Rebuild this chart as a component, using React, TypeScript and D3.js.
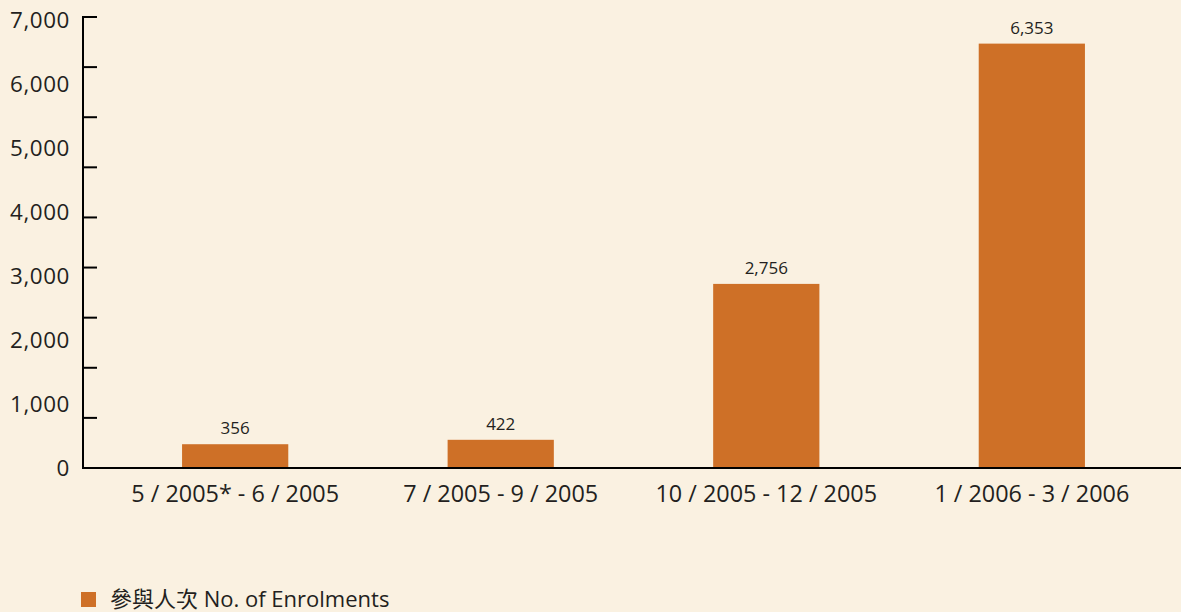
import React, { useEffect, useRef } from 'react';
import * as d3 from 'd3';

const categories = ['5 / 2005* - 6 / 2005', '7 / 2005 - 9 / 2005', '10 / 2005 - 12 / 2005', '1 / 2006 - 3 / 2006'];
const enrolments = [356, 422, 2756, 6353];
const yTickValues = [0, 1000, 2000, 3000, 4000, 5000, 6000, 7000];
const tickMarkCount = 10;
const legendLabel = '參與人次 No. of Enrolments';

const width = 1181;
const height = 612;
const barColor = '#CE7027';
const bgColor = '#FAF1E1';
const textColor = '#231F20';
const font = '"Open Sans", "Noto Sans CJK TC", sans-serif';

function App() {
  const svgRef = useRef<SVGSVGElement>(null);

  useEffect(() => {
    if (!svgRef.current) return;
    const svg = d3.select(svgRef.current);
    svg.selectAll('*').remove();

    const axisX = 83;
    const baseY = 468;

    svg.append('rect').attr('width', width).attr('height', height).attr('fill', bgColor);

    // scales
    const x = d3.scaleBand()
      .domain(categories)
      .range([axisX, 1184])
      .paddingInner(0.6)
      .paddingOuter(0.373);

    const y = d3.scaleLinear().domain([0, 7000]).range([baseY, baseY - 7000 * 0.0668]);
    // the printed tick labels sit on a slightly tighter grid than the bars
    const yLabel = d3.scaleLinear().domain([0, 7000]).range([467.5, 19.5]);
    const yMark = d3.scaleLinear().domain([0, tickMarkCount - 1]).range([baseY, 17]);

    // bars
    svg.selectAll('.bar')
      .data(enrolments)
      .enter().append('rect')
      .attr('class', 'bar')
      .attr('x', (d, i) => x(categories[i]) || 0)
      .attr('y', d => y(d))
      .attr('width', x.bandwidth())
      .attr('height', d => baseY - y(d))
      .attr('fill', barColor);

    // value labels
    svg.selectAll('.label')
      .data(enrolments)
      .enter().append('text')
      .attr('class', 'label')
      .attr('x', (d, i) => (x(categories[i]) || 0) + x.bandwidth() / 2)
      .attr('y', d => y(d) - 10)
      .attr('text-anchor', 'middle')
      .style('font-family', font)
      .style('font-size', '17px')
      .style('fill', textColor)
      .text(d => d3.format(',')(d));

    // y axis line + tick marks
    svg.append('line')
      .attr('x1', axisX).attr('x2', axisX)
      .attr('y1', 16).attr('y2', baseY + 1)
      .attr('stroke', '#000').attr('stroke-width', 2);

    svg.selectAll('.tickmark')
      .data(d3.range(tickMarkCount))
      .enter().append('line')
      .attr('class', 'tickmark')
      .attr('x1', axisX).attr('x2', 97)
      .attr('y1', d => yMark(d)).attr('y2', d => yMark(d))
      .attr('stroke', '#000').attr('stroke-width', 2);

    svg.selectAll('.ylabel')
      .data(yTickValues)
      .enter().append('text')
      .attr('class', 'ylabel')
      .attr('x', 70)
      .attr('y', d => yLabel(d) + 8)
      .attr('text-anchor', 'end')
      .style('font-family', font)
      .style('font-size', '22.4px')
      .style('letter-spacing', '0.6px')
      .style('fill', textColor)
      .text(d => d3.format(',')(d));

    // x axis line
    svg.append('line')
      .attr('x1', axisX - 1).attr('x2', width)
      .attr('y1', baseY).attr('y2', baseY)
      .attr('stroke', '#000').attr('stroke-width', 2);

    svg.selectAll('.xlabel')
      .data(categories)
      .enter().append('text')
      .attr('class', 'xlabel')
      .attr('x', d => (x(d) || 0) + x.bandwidth() / 2)
      .attr('y', 502)
      .attr('text-anchor', 'middle')
      .style('font-family', font)
      .style('font-size', '23.4px')
      .style('fill', textColor)
      .text(d => d);

    // legend
    svg.append('rect')
      .attr('x', 81).attr('y', 592)
      .attr('width', 15).attr('height', 15)
      .attr('fill', barColor);

    svg.append('text')
      .attr('x', 110)
      .attr('y', 607)
      .style('font-family', font)
      .style('font-size', '22px')
      .style('fill', textColor)
      .text(legendLabel);
  }, []);

  return (
    <svg
      ref={svgRef}
      width={width}
      height={height}
      style={{ position: 'fixed', top: 0, left: 0, display: 'block' }}
    />
  );
}

export default App;
